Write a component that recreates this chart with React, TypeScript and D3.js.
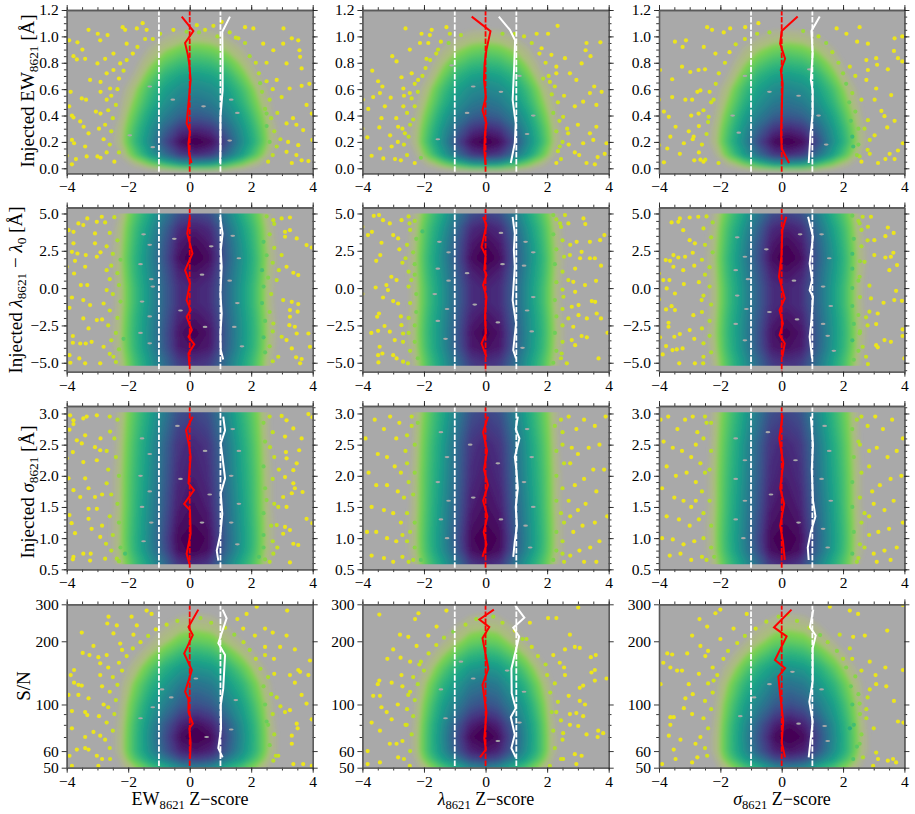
import React, { useEffect, useRef } from 'react';
import * as d3 from 'd3';

const width = 915;
const height = 814;

// z-score distance from the centre of the cloud, columns of the density tables
const zProfile = [0, 0.5, 1, 1.5, 2, 2.5, 3, 3.5];

// density tables: one row per y value (1 = darkest purple, 0 = yellow)
const ewRows = [-0.03, 0.03, 0.1, 0.2, 0.3, 0.4, 0.5, 0.6, 0.7, 0.8, 0.9, 1.0, 1.1, 1.25];
const ewDensity = [
  [0, 0, 0, 0, 0, 0, 0, 0],
  [0.45, 0.42, 0.3, 0.18, 0.08, 0, 0, 0],
  [0.85, 0.8, 0.62, 0.42, 0.22, 0.05, 0, 0],
  [1, 0.95, 0.76, 0.5, 0.3, 0.09, 0, 0],
  [0.87, 0.82, 0.66, 0.46, 0.27, 0.08, 0, 0],
  [0.7, 0.66, 0.55, 0.4, 0.22, 0.06, 0, 0],
  [0.6, 0.56, 0.47, 0.33, 0.17, 0.04, 0, 0],
  [0.52, 0.49, 0.41, 0.28, 0.13, 0.02, 0, 0],
  [0.43, 0.4, 0.33, 0.2, 0.07, 0, 0, 0],
  [0.31, 0.29, 0.23, 0.13, 0.03, 0, 0, 0],
  [0.21, 0.19, 0.14, 0.07, 0, 0, 0, 0],
  [0.1, 0.09, 0.06, 0.02, 0, 0, 0, 0],
  [0.02, 0.02, 0, 0, 0, 0, 0, 0],
  [0, 0, 0, 0, 0, 0, 0, 0],
];
const lamRows = [-6, -5, -4, -3, -2, -1, 0, 1, 2, 3, 4, 5, 6];
const lamDensity = [
  [0.84, 0.8, 0.62, 0.42, 0.25, 0.06, 0, 0],
  [0.84, 0.8, 0.62, 0.42, 0.25, 0.06, 0, 0],
  [0.94, 0.9, 0.69, 0.47, 0.29, 0.08, 0, 0],
  [0.98, 0.92, 0.7, 0.48, 0.3, 0.09, 0, 0],
  [0.93, 0.88, 0.68, 0.47, 0.29, 0.08, 0, 0],
  [0.88, 0.84, 0.66, 0.45, 0.27, 0.07, 0, 0],
  [0.88, 0.84, 0.66, 0.45, 0.27, 0.07, 0, 0],
  [0.93, 0.88, 0.68, 0.47, 0.29, 0.08, 0, 0],
  [1, 0.94, 0.71, 0.49, 0.3, 0.09, 0, 0],
  [0.96, 0.9, 0.69, 0.47, 0.28, 0.08, 0, 0],
  [0.9, 0.85, 0.64, 0.43, 0.26, 0.07, 0, 0],
  [0.78, 0.73, 0.56, 0.37, 0.22, 0.05, 0, 0],
  [0.78, 0.73, 0.56, 0.37, 0.22, 0.05, 0, 0],
];
const sigRows = [0.3, 0.6, 0.8, 1, 1.25, 1.5, 2, 2.5, 3, 3.3];
const sigDensity = [
  [0.87, 0.82, 0.6, 0.4, 0.24, 0.06, 0, 0],
  [0.87, 0.82, 0.6, 0.4, 0.24, 0.06, 0, 0],
  [0.98, 0.93, 0.69, 0.47, 0.28, 0.08, 0, 0],
  [1, 0.95, 0.71, 0.48, 0.29, 0.08, 0, 0],
  [0.96, 0.92, 0.69, 0.47, 0.28, 0.08, 0, 0],
  [0.94, 0.89, 0.67, 0.46, 0.27, 0.07, 0, 0],
  [0.9, 0.85, 0.64, 0.43, 0.26, 0.07, 0, 0],
  [0.87, 0.82, 0.62, 0.41, 0.24, 0.06, 0, 0],
  [0.78, 0.73, 0.54, 0.36, 0.21, 0.05, 0, 0],
  [0.78, 0.73, 0.54, 0.36, 0.21, 0.05, 0, 0],
];
const snrRows = [42, 50, 55, 60, 70, 80, 100, 125, 150, 175, 200, 250, 300, 340];
const snrDensity = [
  [0.55, 0.5, 0.36, 0.26, 0.14, 0.03, 0, 0],
  [0.55, 0.5, 0.36, 0.26, 0.14, 0.03, 0, 0],
  [0.8, 0.75, 0.57, 0.41, 0.24, 0.06, 0, 0],
  [0.92, 0.88, 0.7, 0.48, 0.29, 0.08, 0, 0],
  [1, 0.95, 0.74, 0.5, 0.29, 0.08, 0, 0],
  [0.95, 0.88, 0.7, 0.48, 0.28, 0.07, 0, 0],
  [0.74, 0.69, 0.55, 0.41, 0.23, 0.06, 0, 0],
  [0.6, 0.56, 0.44, 0.32, 0.17, 0.04, 0, 0],
  [0.46, 0.43, 0.34, 0.22, 0.1, 0.01, 0, 0],
  [0.33, 0.3, 0.22, 0.13, 0.04, 0, 0, 0],
  [0.22, 0.2, 0.13, 0.06, 0, 0, 0, 0],
  [0.09, 0.08, 0.04, 0, 0, 0, 0, 0],
  [0.02, 0.01, 0, 0, 0, 0, 0, 0],
  [0, 0, 0, 0, 0, 0, 0, 0],
];

// centre and relative width of the cloud, one per x column
const ewCentre = [0.2, 0, 0.2];
const lamCentre = [0.15, 0, 0.15];
const sigCentre = [0.1, 0, 0.1];
const snrCentre = [0.2, -0.05, 0.25];
const ewWidth = [1, 0.92, 0.96];
const lamWidth = [1, 0.95, 0.97];
const sigWidth = [1, 0.95, 0.97];
const snrWidth = [1, 0.9, 0.97];

// sparse points in the wings [z, y]
const ptsEwEw = [[-3.92,0.97],[-3.65,0.955],[-3.49,0.9],[-3.78,0.85],[-3.67,0.825],[-3.4,0.83],[-3.29,1.05],[-2.99,1.02],[-2.67,1.01],[-2.18,1.07],[-2.1,1.05],[-1.53,1.1],[-1.72,1.06],[-1.4,1.05],[-2.91,0.97],[-2.75,0.83],[-3,0.795],[-3.24,0.67],[-2.9,0.655],[-3.87,0.58],[-3.51,0.53],[-3.37,0.52],[-3.92,0.47],[-3.83,0.4],[-3.78,0.385],[-3.56,0.355],[-3.45,0.315],[-3.83,0.215],[-3.76,0.19],[-4,0.095],[-3.7,0.07],[-3.83,0.03],[-3.4,0.165],[-3.29,0.265],[-3.35,0.09],[-3,0.09],[-2.7,0.52],[-2.48,0.745],[-2.26,0.795],[-2.48,0.87],[-2.05,0.945],[-2.59,0.605],[-2.9,0.415],[3.97,0.415],[3.99,0.215],[3.86,0.055],[3.64,0.06],[3.69,0.29],[3.47,0.33],[3.36,0.38],[3.15,0.34],[3.8,0.48],[3.89,0.64],[3.64,0.625],[3.59,0.845],[3.57,0.895],[3.53,0.97],[3.32,0.985],[3.04,0.945],[3.05,1.06],[3.64,0.757],[3.15,0.795],[2.83,0.67],[3.25,0.605],[2.99,0.54],[2.72,0.895],[2.39,0.945],[2.07,1.06],[1.8,1.07],[1.58,0.985],[3.2,0.2],[3.53,0.175],[3.47,0.1],[3.15,0.125],[3.32,0.04],[2.83,0.165],[2.5,0.415],[2.29,0.645],[-0.53,1.05],[0.23,1.085],[1.04,1.11],[0.5,1.05],[-0.96,1.02],[0.77,1.08],[-0.1,1.035]];
const ptsEwLam = [[-2.6,1.06],[-1.75,1.05],[-2.08,1.02],[-1.81,1.01],[-1.27,1.07],[-1.16,1.02],[-3.03,0.85],[-2.89,0.81],[-2.46,0.9],[-2.13,0.95],[-1.86,0.95],[-3.68,0.74],[-3.49,0.66],[-3.35,0.62],[-3.65,0.54],[-3.43,0.57],[-3.08,0.535],[-2.73,0.69],[-2.67,0.605],[-3.99,0.52],[-3.81,0.45],[-3.27,0.47],[-3.38,0.38],[-3.45,0.31],[-4,0.3],[-3.84,0.235],[-3.43,0.15],[-3.7,0.095],[-3.32,0.075],[-3.05,0.165],[-2.94,0.07],[-3.1,0.25],[-2.62,0.265],[-2.67,0.47],[-2.46,0.57],[-2.84,0.315],[-2.35,0.37],[-2.19,0.67],[-1.92,0.83],[-1.54,0.9],[2.34,1.08],[2.03,1.02],[1.66,1.02],[3.28,0.95],[3.73,0.955],[3.25,0.895],[3.41,0.85],[3.12,0.795],[2.58,0.835],[2.14,0.86],[1.82,0.91],[2.74,0.72],[2.95,0.67],[3.53,0.62],[3.77,0.58],[3.39,0.57],[3.17,0.505],[3.6,0.48],[2.9,0.47],[3,0.33],[3.6,0.315],[3.39,0.265],[3.93,0.19],[3.5,0.215],[3.17,0.19],[3.87,0.11],[3.64,0.085],[3.55,0.03],[3.28,0.04],[3.04,0.1],[2.9,0.12],[2.52,0.39],[2.68,0.265],[2.3,0.04],[2.41,0.165],[1.87,0.68],[2.09,0.655],[2.3,0.77]];
const ptsEwSig = [[-3.48,0.96],[-3.23,0.92],[-3.12,0.97],[-2.43,1.07],[-2.27,1.05],[-1.89,1.03],[-1.68,1.06],[-1.19,1.07],[-0.76,1.1],[-3.97,0.745],[-3.57,0.675],[-3.25,0.77],[-2.98,0.73],[-2.71,0.745],[-2.54,0.92],[-2.16,0.87],[-4,0.52],[-3.57,0.54],[-3.84,0.43],[-3.68,0.39],[-3.14,0.52],[-2.92,0.52],[-2.65,0.59],[-3.46,0.315],[-3.63,0.24],[-4,0.175],[-3.73,0.15],[-3.84,0.045],[-3.32,0.11],[-3.03,0.28],[-2.87,0.24],[-3.19,0.19],[-2.65,0.065],[-2.49,0.065],[-2.06,0.04],[-2.71,0.415],[-2.38,0.39],[-2.22,0.52],[3.68,0.985],[3.93,1],[3.66,0.89],[3.79,0.835],[3.93,0.81],[3.46,0.75],[2.81,0.945],[2.46,0.96],[2.11,1.02],[1.79,1.06],[2.54,1.07],[3.08,0.835],[3.11,0.785],[2.76,0.82],[2.22,0.77],[2.81,0.745],[2.76,0.67],[3.08,0.605],[3.03,0.52],[3.57,0.555],[3.25,0.435],[3.35,0.395],[3.68,0.36],[2.81,0.365],[3.44,0.31],[3.03,0.25],[2.87,0.215],[3.95,0.19],[3.79,0.135],[3.52,0.11],[3.38,0.07],[3.68,0.07],[3.14,0.04],[2.87,0.11],[2.54,0.09],[2.33,0.165]];
const ptsLamEw = [[-3.94,3.88],[-3.78,3.77],[-3.62,4.33],[-3.46,4.22],[-3.33,4.67],[-3.02,4.44],[-2.86,4.78],[-3.08,3.66],[-3.78,3],[-3.83,2.43],[-3.65,2.32],[-3.73,1.83],[-3.38,2.21],[-3.08,3],[-3.02,2.1],[-3.4,1.43],[-3.76,0.98],[-4,1.43],[-3.54,0.2],[-3.33,0.2],[-3.83,-0.63],[-3.91,-1.32],[-3.46,-0.8],[-3.24,-1.14],[-3.46,-2.03],[-3.02,-2.14],[-3.29,-2.7],[-3.8,-3.21],[-3.8,-3.66],[-3.56,-3.71],[-3.38,-3.71],[-3.19,-3.6],[-3.91,-4.49],[-3.59,-4.71],[-3.88,-5],[-3.4,-5.04],[-2.91,-5.04],[-2.8,-3.93],[-2.48,-4.6],[-2.7,-0.13],[-2.7,1.2],[-2.8,-1.03],[3.1,3.77],[3.26,3.88],[3.1,3.44],[3.48,3.33],[3.8,2.88],[3.97,2.72],[2.99,2.21],[3.15,1.43],[3.37,1.03],[3.53,0.87],[3.26,4.73],[2.99,4.67],[2.72,4.55],[2.83,0.54],[3.04,-0.8],[3.32,-0.92],[3.53,-1.07],[3.26,-1.47],[3.51,-1.58],[3.26,-1.92],[3.24,-2.48],[3.42,-2.59],[3.48,-3.04],[3.86,-3.04],[3.91,-3.93],[2.99,-3.26],[3.15,-3.48],[3.32,-4.04],[3.46,-4.64],[3.64,-4.75],[3.59,-5.04],[2.88,-4.6],[2.72,-2.37]];
const ptsLamLam = [[-4,4.1],[-3.82,3.55],[-3.69,3.77],[-3.63,4.84],[-3.46,4.89],[-3.33,4.55],[-3.38,3.04],[-3.11,4.33],[-3,3.55],[-3.55,1.83],[-3.42,2.21],[-2.84,3.33],[-2.73,4.55],[-2.47,4.33],[-3.06,0.76],[-2.89,0.54],[-3.57,0.04],[-3.22,0.2],[-3.17,-0.13],[-3.33,-0.63],[-4,-0.4],[-3,-0.87],[-2.84,-1.03],[-3.46,-1.7],[-3.52,-1.92],[-3.71,-3],[-3.49,-2.86],[-3.28,-2.54],[-3.11,-2.92],[-2.95,-3.48],[-3.44,-3.93],[-3.49,-4.49],[-3.35,-4.38],[-3.48,-4.98],[-3,-4.49],[-2.89,-4.71],[-2.68,-4.93],[-2.52,-5.04],[-2.73,-2.48],[-2.68,-3.04],[-2.68,-3.6],[-2.41,0.54],[2.2,4.89],[2.58,4.89],[2.42,4.33],[2.69,4.33],[3.18,4.67],[3.24,4.29],[3.86,3.55],[3.72,3.21],[3.39,3.1],[2.96,3.1],[3.12,2.43],[3.39,2],[3.55,2],[3.75,1.5],[2.91,1.31],[2.74,2.21],[3.07,2],[2.69,0.54],[2.85,0.42],[3.23,0.2],[3.59,0.49],[2.91,-0.25],[2.53,-0.58],[3.45,-0.87],[3.56,-0.92],[3.02,-1.14],[2.8,-1.25],[3.61,-1.7],[3.75,-2.03],[3.29,-2.03],[3.02,-1.81],[2.69,-2.03],[2.85,-2.59],[3.96,-2.99],[3.12,-3.21],[3.29,-3.3],[3.67,-4.71],[2.64,-5.04],[2.8,-3.48],[2.47,-4.38],[2.91,-3.82]];
const ptsLamSig = [[-3.59,4.4],[-3.37,4.44],[-3.32,4.67],[-3,4.73],[-2.72,4.78],[-3.21,3.88],[-3,3.21],[-2.83,3],[-3.53,2.21],[-3.37,2.05],[-3.15,2.1],[-2.9,2.37],[-3.78,1.88],[-3.64,1.83],[-3.53,1.43],[-3.21,1.2],[-3.86,0.54],[-3.66,0.54],[-4,0.98],[-3.75,-0.02],[-3.48,-0.36],[-3.19,0.27],[-4,-0.76],[-3.77,-1.43],[-3.59,-1.21],[-3.48,-1.47],[-3.69,-2.32],[-3.69,-2.59],[-3.97,-3.3],[-3.5,-3.26],[-3.32,-3.08],[-3,-2.81],[-3.77,-3.88],[-3.56,-4.15],[-3.42,-4.11],[-3.23,-4.04],[-3.88,-4.44],[-3.34,-5.04],[-2.83,-5.04],[-2.56,-5.04],[-2.61,-0.8],[-2.88,-1.81],[2.64,4.78],[2.91,4.78],[2.54,4.33],[2.81,4.11],[3.02,3.21],[3.46,4.06],[3.65,3.7],[3.38,3.48],[3.64,2.37],[3.56,2.1],[3.38,2.05],[3.76,1.54],[3.51,1.2],[3.02,2.21],[2.7,1.76],[2.54,0.76],[2.86,0.16],[3.73,-0.18],[3.67,-0.8],[3.92,-0.85],[3.32,-0.98],[2.91,-0.69],[2.86,-1.58],[3.13,-1.7],[2.75,-1.96],[3.08,-2.41],[3.94,-2.77],[3.94,-3.21],[3.35,-3.48],[3.56,-3.6],[3.08,-3.82],[3.13,-3.97],[4,-4.71],[2.81,-5.09],[2.75,-4.6],[2.54,-3.03],[2.64,-3.93]];
const ptsSigEw = [[-3.89,2.97],[-3.78,2.89],[-3.78,2.83],[-3.46,2.92],[-3.35,2.95],[-3.02,2.97],[-3.91,2.74],[-3.67,2.57],[-3.4,2.65],[-3.51,2.52],[-3.08,2.46],[-4,2.28],[-3.8,2.38],[-3.46,2.22],[-2.91,2.41],[-3.02,2.25],[-3.94,1.96],[-3.4,1.96],[-3.78,1.77],[-3.29,1.8],[-3.56,1.66],[-3.08,1.66],[-3.29,1.47],[-3.02,1.47],[-3.91,1.37],[-3.29,1.31],[-3.84,1.24],[-3.73,1.08],[-3.19,1.15],[-2.91,1.02],[-2.72,0.91],[-3.22,0.75],[-3.46,0.75],[-3.78,0.7],[-3.8,0.66],[-3.24,0.64],[-2.75,0.67],[-2.37,0.67],[-2.7,1.88],[-2.59,2.71],[3.86,2.99],[3.99,2.94],[2.99,2.96],[3.15,2.89],[3.37,2.76],[3.64,2.6],[3.1,2.63],[3.56,2.41],[3.13,2.38],[3.15,2.28],[3.48,2.2],[3.37,2.09],[3.1,1.98],[3.37,1.88],[3.67,1.74],[3.42,1.8],[3.32,1.72],[3.04,1.66],[3.15,1.5],[2.88,1.5],[3.8,1.31],[3.99,1.24],[2.83,1.21],[3.26,1.13],[3.37,0.91],[3.53,0.89],[3.26,0.61],[2.72,0.75],[2.45,0.66],[3.04,1.07],[3.1,1.18],[2.5,1.61],[2.61,2.46]];
const ptsSigLam = [[-3.9,2.6],[-3.6,2.9],[-3.3,2.75],[-3.1,2.95],[-2.9,2.6],[-2.8,2.85],[-3.5,2.35],[-3.2,2.3],[-2.95,2.15],[-3.8,2.05],[-3.55,1.85],[-3.2,1.85],[-2.85,1.75],[-3.7,1.5],[-3.3,1.45],[-3,1.4],[-2.75,1.25],[-3.85,1.1],[-3.55,1.1],[-3.2,1],[-2.9,0.95],[-3.7,0.72],[-3.3,0.68],[-3,0.62],[-2.7,0.7],[-2.5,0.62],[-2.6,2.4],[-2.5,1.9],[-2.4,2.8],[-2.45,1.1],[3.9,2.95],[3.55,2.8],[3.2,2.9],[2.95,2.75],[2.7,2.95],[3.7,2.5],[3.35,2.45],[3,2.35],[2.75,2.2],[3.85,2.1],[3.5,2.1],[3.2,1.95],[2.9,1.85],[3.6,1.75],[3.25,1.55],[3,1.45],[2.7,1.6],[3.95,1.35],[3.55,1.25],[3.15,1.2],[2.85,1.1],[3.7,0.95],[3.4,0.85],[3.05,0.8],[2.75,0.72],[3.6,0.62],[3.2,0.62],[2.5,0.75],[2.45,1.4],[2.5,2.5]];
const ptsSigSig = [[-3.95,2.9],[-3.7,2.95],[-3.4,2.75],[-3.15,2.9],[-2.9,2.95],[-2.75,2.7],[-3.85,2.55],[-3.55,2.45],[-3.25,2.4],[-2.95,2.3],[-3.75,2.15],[-3.45,2],[-3.1,2.05],[-2.8,1.9],[-3.9,1.8],[-3.5,1.65],[-3.2,1.6],[-2.95,1.5],[-3.75,1.35],[-3.35,1.3],[-3,1.2],[-2.7,1.3],[-3.9,1],[-3.55,0.98],[-3.2,0.9],[-2.85,0.95],[-3.65,0.72],[-3.3,0.75],[-2.95,0.65],[-2.6,0.7],[-2.5,2.05],[-2.45,2.85],[3.95,2.6],[3.6,2.9],[3.3,2.75],[3.05,2.95],[2.8,2.8],[2.6,2.95],[3.75,2.4],[3.45,2.3],[3.1,2.45],[2.85,2.15],[3.9,2],[3.55,1.95],[3.2,1.85],[2.95,1.75],[3.65,1.6],[3.35,1.45],[3,1.55],[2.7,1.4],[3.95,1.25],[3.5,1.15],[3.15,1.1],[2.85,1.05],[3.75,0.85],[3.35,0.8],[3,0.75],[2.7,0.85],[3.55,0.65],[3.1,0.62],[2.5,0.68],[2.5,2.55]];
const ptsSnrEw = [[-3.94,111],[-3.83,93],[-3.76,127],[-3.87,138],[-3.76,146],[-3.62,124],[-3.51,123],[-3.51,220],[-3.48,176],[-3.26,172],[-3.13,190],[-2.97,168],[-2.91,157],[-2.64,262],[-2.68,243],[-2.37,238],[-2.48,218],[-1.89,262],[-1.72,238],[-1.4,280],[-1.24,270],[-3.4,92],[-3.33,89],[-3.62,111],[-3.29,107],[-2.91,138],[-3.83,77],[-3.67,61],[-3.91,57],[-3.4,62],[-3.29,61],[-3.02,57],[-3.83,51],[-3.4,70],[-2.91,71],[-2.97,51],[-2.59,55],[-3.13,74],[-2.7,172],[-2.26,195],[-1.83,215],[-2.8,100],[3.17,280],[2.18,292],[1.85,270],[1.55,255],[1.74,230],[2.12,213],[2.45,230],[2.7,220],[3.15,213],[2.94,188],[3.42,183],[2.45,188],[2.74,165],[3.91,162],[3.53,146],[3.59,143],[3.26,138],[3.86,138],[3.42,127],[3.64,111],[3.8,101],[3.26,94],[3.1,92],[3.97,85],[3.48,81],[3.51,77],[3.32,71],[3.32,65],[2.88,57],[3.69,52],[3.37,52],[3.97,51],[2.72,54],[2.5,83],[2.83,108]];
const ptsSnrLam = [[-3.45,268],[-2.29,255],[-2.18,272],[-2.78,215],[-2.51,210],[-3,183],[-3.19,165],[-2.76,167],[-2.24,190],[-1.86,213],[-1.27,280],[-1.59,235],[-3.45,130],[-3.5,125],[-3.05,127],[-2.73,138],[-3.65,110],[-3.43,110],[-3.38,97],[-3.7,82],[-3.21,92],[-3.05,85],[-3.43,75],[-3.11,65],[-3.83,60],[-3.83,52],[-3.43,53],[-2.84,56],[-2.89,65],[-2.56,80],[-2.46,51],[-2.51,111],[-2.15,155],[3.01,290],[2.3,258],[2.03,258],[2.74,215],[1.44,245],[1.33,205],[2.9,188],[3.06,186],[3.42,168],[3.58,172],[2.58,183],[2.41,158],[3.55,146],[3.44,142],[3.55,130],[3.06,120],[3.93,133],[3.17,123],[2.58,138],[3.06,104],[3.23,100],[2.74,90],[2.95,91],[3.17,88],[2.74,80],[3.01,79],[3.28,72],[3.64,70],[3.82,73],[3.66,75],[2.52,73],[2.9,58],[3.12,57],[2.95,52],[2.52,55],[2.09,51],[2.3,92]];
const ptsSnrSig = [[-3.86,158],[-3.73,175],[-3.57,173],[-3.63,150],[-3.95,125],[-3.41,145],[-3.25,145],[-3.08,175],[-2.68,255],[-2.16,272],[-2.43,235],[-2,283],[-2.92,213],[-2.65,190],[-2.49,170],[-3.63,80],[-3.19,96],[-3.52,87],[-2.92,90],[-3.63,87],[-3.68,71],[-3.52,61],[-3.9,52],[-3.46,55],[-2.92,53],[-3.3,68],[-3.14,107],[-3.03,125],[-2.81,65],[-2.22,130],[-2.43,57],[-1.57,230],[-1.14,270],[3.95,298],[2.22,280],[2.49,270],[1.57,292],[2.71,213],[2.33,210],[1.89,215],[2.22,185],[3.44,225],[3.38,150],[3.95,146],[2.87,160],[3.06,138],[3.08,125],[2.87,118],[3.41,122],[3.66,104],[2.54,101],[2.76,86],[3,77],[3.79,83],[3.97,82],[2.76,95],[3.08,59],[2.98,51],[3.46,54],[3.63,55],[3.73,53],[3.14,55],[2.33,55],[2.54,65],[2.22,77]];

// denser points at the edge of the cloud
const edgeEwEw = [[-2.9,0.08],[-2.7,0.12],[-2.6,0.18],[-2.8,0.22],[-2.55,0.28],[-2.75,0.33],[-2.5,0.38],[-2.65,0.44],[-2.4,0.48],[-2.55,0.55],[-2.35,0.6],[-2.3,0.68],[-2.15,0.74],[-2.05,0.82],[-1.85,0.87],[-1.7,0.92],[-1.45,0.98],[-1.2,0.98],[-2.45,0.05],[-2.3,0.12],[-2.95,0.3],[-3.05,0.43],[-2.9,0.58],[-2.7,0.72],[2.7,0.1],[2.55,0.05],[2.6,0.2],[2.75,0.28],[2.5,0.32],[2.65,0.38],[2.45,0.45],[2.6,0.52],[2.35,0.58],[2.5,0.66],[2.25,0.72],[2.15,0.8],[1.95,0.85],[1.8,0.95],[1.5,0.99],[1.3,1.03],[0.9,1],[0.3,1.03],[2.95,0.22],[2.85,0.42],[2.7,0.6],[2.5,0.8]];
const edgeEwLam = [[-2.75,0.06],[-2.55,0.1],[-2.65,0.18],[-2.5,0.24],[-2.7,0.3],[-2.45,0.33],[-2.55,0.42],[-2.3,0.47],[-2.4,0.53],[-2.2,0.58],[-2.3,0.64],[-2.05,0.7],[-1.95,0.76],[-1.8,0.82],[-1.6,0.87],[-1.45,0.96],[-1.2,0.95],[-0.8,1.01],[-2.3,0.04],[-2.1,0.08],[-2.85,0.2],[-2.9,0.38],[-2.65,0.55],[-2.4,0.72],[2.45,0.07],[2.35,0.13],[2.5,0.2],[2.3,0.28],[2.4,0.36],[2.2,0.42],[2.35,0.5],[2.15,0.56],[2.25,0.62],[2.05,0.7],[1.95,0.8],[1.75,0.87],[1.5,0.95],[1.25,1],[0.95,1.02],[0.55,1.02],[2.7,0.18],[2.65,0.3],[2.55,0.55],[2.3,0.72]];
const edgeEwSig = [[-2.85,0.06],[-2.7,0.12],[-2.55,0.05],[-2.6,0.18],[-2.45,0.26],[-2.7,0.32],[-2.4,0.35],[-2.55,0.44],[-2.3,0.5],[-2.35,0.58],[-2.15,0.64],[-2.05,0.72],[-1.85,0.8],[-1.7,0.88],[-1.5,0.94],[-1.2,0.98],[-0.8,1.02],[-0.4,1.03],[-2.9,0.22],[-2.95,0.4],[-2.75,0.58],[-2.5,0.75],[2.6,0.05],[2.45,0.1],[2.5,0.18],[2.3,0.24],[2.5,0.3],[2.25,0.36],[2.4,0.43],[2.2,0.5],[2.3,0.57],[2.1,0.64],[2,0.72],[1.85,0.8],[1.65,0.88],[1.45,0.95],[1.2,1],[0.7,1.04],[2.8,0.14],[2.7,0.3],[2.6,0.52],[2.4,0.7]];
const edgeLamEw = [[-2.75,4.4],[-2.45,4.75],[-2.6,3.7],[-2.35,3.2],[-2.7,2.8],[-2.5,2.3],[-2.25,1.9],[-2.55,1.5],[-2.35,1],[-2.6,0.6],[-2.3,0.2],[-2.5,-0.4],[-2.25,-0.9],[-2.6,-1.5],[-2.35,-2],[-2.65,-2.5],[-2.4,-3],[-2.55,-3.5],[-2.3,-4.1],[-2.6,-4.4],[-2.4,-4.95],[-2.15,-3.4],[-2.9,2.4],[-2.85,-2.1],[2.75,4.3],[2.5,4.8],[2.6,3.6],[2.4,3.1],[2.75,2.7],[2.5,2.2],[2.7,1.7],[2.35,1.2],[2.55,0.7],[2.4,0.1],[2.65,-0.4],[2.35,-1],[2.6,-1.6],[2.45,-2.2],[2.7,-2.9],[2.4,-3.3],[2.6,-3.9],[2.45,-4.3],[2.7,-4.9],[2.9,1.2]];
const edgeLamLam = [[-2.5,4.8],[-2.3,4.5],[-2.45,3.9],[-2.25,3.3],[-2.55,2.9],[-2.35,2.4],[-2.6,2],[-2.3,1.6],[-2.5,1.1],[-2.7,1.7],[-2.3,0.9],[-2.5,0.1],[-2.25,-0.4],[-2.45,-1],[-2.25,-1.6],[-2.5,-2],[-2.3,-2.5],[-2.5,-3],[-2.3,-3.6],[-2.45,-4.2],[-2.2,-4.7],[-2.75,-1.9],[-2.8,2.6],[-2.05,3.8],[2.3,4.6],[2.45,4.1],[2.2,3.6],[2.5,3.2],[2.3,2.6],[2.55,2.1],[2.25,1.6],[2.5,1.1],[2.3,0.4],[2.5,-0.1],[2.25,-0.8],[2.5,-1.4],[2.3,-1.9],[2.5,-2.5],[2.25,-3],[2.5,-3.6],[2.3,-4.2],[2.45,-4.7],[2.2,-5],[2.75,2.9]];
const edgeLamSig = [[-2.45,4.8],[-2.25,4.4],[-2.55,4],[-2.3,3.4],[-2.5,2.9],[-2.25,2.4],[-2.6,1.9],[-2.35,1.4],[-2.5,0.9],[-2.7,0.4],[-2.35,0.1],[-2.55,-0.5],[-2.3,-1.1],[-2.6,-1.6],[-2.35,-2.2],[-2.6,-2.7],[-2.35,-3.2],[-2.55,-3.7],[-2.3,-4.3],[-2.55,-4.6],[-2.85,-3.4],[-2.85,1.5],[2.5,4.5],[2.3,4.85],[2.6,3.9],[2.35,3.3],[2.6,2.8],[2.3,2.3],[2.55,1.8],[2.3,1.3],[2.5,0.5],[2.3,0],[2.55,-0.6],[2.3,-1.2],[2.5,-1.8],[2.35,-2.4],[2.55,-2.9],[2.3,-3.5],[2.5,-4.2],[2.35,-4.8],[2.8,3.2],[2.8,-2.5]];
const edgeSigEw = [[-2.6,2.95],[-2.35,2.9],[-2.45,2.6],[-2.7,2.4],[-2.4,2.3],[-2.65,2.1],[-2.3,2],[-2.55,1.7],[-2.35,1.55],[-2.6,1.35],[-2.3,1.25],[-2.5,1.05],[-2.25,0.85],[-2.55,0.8],[-2.3,0.63],[-2.1,0.75],[-2.85,1.7],[-2.9,2.6],[-2.85,1.2],[2.6,2.95],[2.4,2.85],[2.7,2.7],[2.45,2.55],[2.75,2.3],[2.4,2.15],[2.7,1.95],[2.45,1.8],[2.75,1.55],[2.4,1.4],[2.65,1.2],[2.4,1.05],[2.7,0.95],[2.4,0.85],[2.6,0.62],[2.25,0.7],[2.9,2.1],[2.85,0.85]];
const edgeSigLam = [[-2.4,2.95],[-2.2,2.85],[-2.55,2.65],[-2.3,2.5],[-2.55,2.2],[-2.3,2.05],[-2.65,1.65],[-2.35,1.7],[-2.55,1.4],[-2.3,1.25],[-2.55,0.95],[-2.3,0.85],[-2.1,0.65],[-2.35,0.65],[-2.75,2.05],[-2.7,1.05],[2.45,2.9],[2.25,2.8],[2.5,2.7],[2.3,2.4],[2.55,2.2],[2.3,2],[2.5,1.8],[2.3,1.6],[2.55,1.25],[2.3,1.1],[2.5,0.95],[2.3,0.8],[2.55,0.62],[2.2,0.65],[2.8,2.45],[2.75,1.35]];
const edgeSigSig = [[-2.5,2.95],[-2.3,2.85],[-2.55,2.6],[-2.3,2.4],[-2.65,2.2],[-2.35,2.1],[-2.6,1.75],[-2.35,1.6],[-2.55,1.4],[-2.3,1.2],[-2.55,1],[-2.3,0.85],[-2.45,0.65],[-2.2,0.7],[-2.8,2.5],[-2.8,1.6],[2.45,2.9],[2.3,2.75],[2.55,2.5],[2.35,2.3],[2.6,2.05],[2.3,1.9],[2.55,1.65],[2.3,1.5],[2.6,1.25],[2.35,1.1],[2.55,0.9],[2.3,0.75],[2.45,0.62],[2.85,2.4],[2.85,1.35]];
const edgeSnrEw = [[-2.85,55],[-2.6,62],[-2.75,68],[-2.5,75],[-2.7,82],[-2.45,90],[-2.65,97],[-2.4,105],[-2.6,115],[-2.35,124],[-2.5,135],[-2.2,145],[-2.3,158],[-2.05,170],[-1.85,185],[-1.6,198],[-1.35,212],[-1.1,228],[-0.75,240],[-0.4,250],[-2.95,88],[-2.85,122],[-2.65,150],[-2.2,182],[2.8,57],[2.6,64],[2.75,72],[2.55,80],[2.7,90],[2.45,100],[2.65,112],[2.4,122],[2.55,135],[2.3,148],[2.15,165],[1.95,182],[1.75,198],[1.45,215],[1.15,232],[0.7,245],[0.35,258],[2.95,98],[2.75,140],[2.45,172]];
const edgeSnrLam = [[-2.65,55],[-2.45,60],[-2.7,67],[-2.4,72],[-2.6,80],[-2.35,88],[-2.55,95],[-2.3,105],[-2.45,115],[-2.2,125],[-2.35,135],[-2,145],[-2.1,160],[-1.85,175],[-1.6,192],[-1.35,208],[-1.05,222],[-0.65,240],[-0.3,255],[-2.85,100],[-2.7,122],[-2.45,160],[2.45,55],[2.25,62],[2.5,68],[2.2,75],[2.45,84],[2.15,92],[2.35,103],[2.1,114],[2.25,126],[2,138],[1.95,155],[1.7,170],[1.5,188],[1.2,205],[0.95,225],[0.55,245],[0.25,262],[2.7,110],[2.55,150],[2.2,172]];
const edgeSnrSig = [[-2.75,56],[-2.5,62],[-2.65,70],[-2.4,77],[-2.55,86],[-2.3,95],[-2.5,104],[-2.25,114],[-2.4,126],[-2.1,138],[-2.25,150],[-1.9,165],[-1.75,180],[-1.45,196],[-1.2,212],[-0.85,230],[-0.5,248],[-0.1,262],[-2.9,112],[-2.7,140],[-2.4,180],[-2,205],[2.65,56],[2.45,63],[2.6,72],[2.35,80],[2.55,90],[2.3,100],[2.5,112],[2.25,122],[2.4,136],[2.1,150],[2,165],[1.8,180],[1.5,198],[1.25,214],[0.9,232],[0.5,250],[0.2,268],[2.8,108],[2.6,145],[2.3,165]];

// small holes in the dense part of the cloud [z, y]
const holesLamEw = [[-1.5,3.6],[-1.3,2.9],[-1.6,1.6],[-1.25,0.6],[-1.2,0.1],[-1.55,-0.9],[-1.3,-1.9],[-1.6,-3],[-1.3,-3.7],[-0.5,3.3],[0.7,2.8],[0.4,0.9],[-0.3,-1.5],[0.5,-2.6],[1.4,3.5],[1.6,2],[1.3,0.5],[1.55,-1],[1.45,-2.6],[1.7,-3.9]];
const holesLamLam = [[-1.5,3.1],[-1.2,2.4],[-1.55,1.3],[-1.2,0.5],[-1.65,-0.4],[-1.25,-1.4],[-1.55,-2.2],[-1.3,-3.4],[-0.6,1],[0.5,3.7],[0.55,1.6],[-0.35,-1.1],[0.4,-2.3],[1.3,3.1],[1.55,2.4],[1.25,1.5],[1.55,-0.6],[1.35,-1.5],[1.5,-2.9],[1.2,-4]];
const holesLamSig = [[-1.45,3.4],[-1.2,2.1],[-1.5,1.2],[-1.1,0.6],[-1.45,-0.5],[-1.15,-1.4],[-1.5,-2.4],[-1.2,-3.5],[-0.5,2.6],[0.6,3.6],[0.4,0.5],[-0.4,-1.6],[0.5,-2.1],[1.3,3.6],[1.55,2],[1.35,0.1],[1.6,-1.2],[1.35,-2.4],[1.5,-3.2],[1.7,-4.2]];
const holesSigEw = [[-1.55,2.6],[-1.3,2.35],[-1.6,2],[-1.3,1.75],[-1.55,1.5],[-1.25,1.25],[-1.5,0.95],[-0.4,2.8],[0.5,2.4],[-0.3,1.95],[0.65,1.7],[0.4,1.25],[1.4,2.75],[1.6,2.4],[1.35,2],[1.6,1.55],[1.35,1.25],[1.55,0.9]];
const holesSigLam = [[-1.45,2.7],[-1.25,2.3],[-1.55,1.9],[-1.2,1.6],[-1.45,1.3],[-1.25,1],[-0.5,2.5],[0.4,2.2],[-0.4,1.65],[0.5,1.3],[1.35,2.75],[1.5,2.3],[1.25,1.9],[1.55,1.5],[1.3,1.2],[1.45,0.85]];
const holesSigSig = [[-1.5,2.6],[-1.2,2.25],[-1.5,1.95],[-1.2,1.6],[-1.5,1.3],[-1.25,1],[-0.45,2.7],[0.45,2.25],[-0.35,1.7],[0.55,1.25],[1.4,2.8],[1.55,2.4],[1.3,1.95],[1.6,1.6],[1.35,1.15],[1.5,0.85]];
const holesEwEw = [[-1.2,0.16],[-1.95,0.25],[1.3,0.21],[1.55,0.42],[0.45,0.47],[-0.55,0.52],[-1.3,0.62],[1.35,0.52]];
const holesEwLam = [[-1.55,0.22],[1.35,0.26],[0.5,0.58],[-0.4,0.62],[-1.1,0.78],[1.1,0.7],[-0.6,0.42],[1.55,0.4]];
const holesEwSig = [[-1.4,0.27],[1.45,0.18],[0.55,0.55],[-0.4,0.58],[1.2,0.4],[-1.2,0.7],[0.9,0.75],[-1.6,0.4]];
const holesSnrEw = [[-1.2,97],[0.2,133],[-0.6,108],[1.35,76],[-0.9,118],[1.5,105],[0.55,70],[-1.6,86]];
const holesSnrLam = [[-1.45,118],[1.25,115],[0.4,67],[-0.8,160],[1.1,82],[-1.3,86],[-0.4,133],[0.7,145]];
const holesSnrSig = [[-1.35,88],[1.4,79],[0.35,143],[0.55,81],[-0.9,108],[1.3,118],[-0.4,125],[1.5,67]];

// running median (red) and scatter (white) [z, y]
const redEwEw = [[0.06,0.04],[-0.02,0.11],[-0.04,0.19],[0.01,0.28],[-0.1,0.34],[-0.06,0.44],[-0.01,0.57],[0.03,0.67],[-0.01,0.78],[-0.06,0.86],[-0.15,0.95],[0.12,1.04],[-0.26,1.15]];
const whiteEwEw = [[0.99,0.04],[1,0.165],[1,0.39],[1.07,0.59],[1.07,0.82],[1.06,1.035],[1.31,1.15]];
const redEwLam = [[0,0.025],[-0.04,0.14],[-0.02,0.265],[0.03,0.34],[-0.1,0.44],[0.01,0.54],[-0.05,0.67],[-0.03,0.795],[0.03,0.9],[0.16,1.04],[-0.45,1.15]];
const whiteEwLam = [[0.82,0.04],[0.95,0.19],[0.98,0.34],[0.88,0.52],[0.93,0.77],[0.96,0.97],[0.79,1.05],[0.43,1.15]];
const redEwSig = [[0.24,0.04],[0,0.15],[-0.02,0.265],[0,0.44],[0.03,0.645],[-0.03,0.745],[0.11,0.83],[-0.05,0.945],[0,1.04],[0.52,1.15]];
const whiteEwSig = [[0.88,0.04],[0.94,0.265],[1.01,0.415],[1.01,0.59],[0.95,0.67],[1.01,0.87],[0.97,1.04],[1.24,1.15]];
const redLamEw = [[0.01,4.78],[-0.08,3.66],[0.09,2.32],[-0.15,1.2],[0.01,0.31],[-0.1,-0.8],[0.03,-1.47],[-0.1,-1.92],[0.07,-2.81],[-0.04,-3.26],[0.15,-3.77],[-0.04,-4.38],[-0.01,-5.15]];
const whiteLamEw = [[0.99,4.78],[1.07,3.66],[1.01,2.55],[1.04,1.43],[1,-0.36],[1.04,-1.7],[1,-3.04],[1.01,-4.15],[1.09,-4.78]];
const redLamLam = [[-0.08,4.78],[0.03,4.22],[-0.13,2.77],[0,2.21],[-0.04,1.2],[0.03,0.87],[-0.08,0.2],[0.03,-0.58],[-0.02,-1.92],[0.01,-3.03],[-0.13,-3.71],[0.03,-4.6]];
const whiteLamLam = [[0.88,4.78],[0.95,3.66],[0.92,2.55],[0.95,1.43],[0.88,-0.8],[0.99,-2.37],[0.9,-4.15],[0.99,-4.71]];
const redLamSig = [[0.15,4.78],[0.02,3.88],[-0.01,2.1],[-0.09,0.76],[0.1,-0.69],[-0.07,-1.47],[0.04,-2.37],[-0.07,-3.15],[0.1,-3.71],[0.02,-4.6]];
const whiteLamSig = [[0.86,4.78],[1.02,3.44],[0.91,1.65],[0.99,0.54],[0.91,-0.13],[1.02,-0.58],[0.96,-2.37],[0.91,-3.26],[0.99,-4.71]];
const redSigEw = [[0.1,2.95],[-0.12,2.73],[-0.01,2.46],[0.03,2.3],[-0.04,1.88],[0.14,1.77],[-0.18,1.55],[0.01,1.45],[0.03,1.07],[-0.1,0.75],[-0.01,0.59]];
const whiteSigEw = [[1.09,2.95],[1.15,2.73],[1.01,2.52],[1.15,1.96],[1.01,1.72],[1.06,1.39],[1,1.07],[0.88,0.8],[0.93,0.64]];
const redSigLam = [[0.08,2.95],[-0.08,2.7],[0.05,2.4],[-0.05,2.1],[0.08,1.85],[-0.08,1.6],[0.06,1.35],[-0.06,1.1],[0.03,0.9],[-0.1,0.7]];
const whiteSigLam = [[1.05,2.95],[0.98,2.75],[1.1,2.6],[0.95,2.3],[1,2.1],[1.05,1.8],[0.98,1.5],[1.02,1.2],[0.95,0.95],[0.9,0.7]];
const redSigSig = [[0.03,2.97],[-0.08,2.6],[0.05,2.2],[-0.05,1.8],[0.08,1.55],[-0.05,1.2],[0.04,0.95],[0.1,0.65]];
const whiteSigSig = [[0.95,2.95],[1.02,2.5],[0.98,2.1],[1.02,1.6],[1.1,1.35],[0.95,1.1],[0.85,0.85],[0.88,0.65]];
const redSnrEw = [[0.01,55],[0.03,66],[-0.01,77],[0.1,81],[-0.04,92],[-0.04,106],[-0.15,115],[0.07,146],[-0.18,175],[0.1,214],[-0.04,234],[0.28,283]];
const whiteSnrEw = [[1.07,56],[0.93,62],[1.02,77],[1.01,99],[1.09,119],[1.15,172],[0.93,196],[1.2,257],[1.07,283]];
const redSnrLam = [[-0.18,56],[0.01,61],[-0.04,69],[0.03,92],[-0.1,124],[0.09,148],[-0.1,207],[0.12,234],[-0.2,254],[0.27,283]];
const whiteSnrLam = [[0.98,56],[0.84,62],[0.95,72],[0.82,87],[0.98,96],[0.85,113],[0.84,148],[1.09,211],[0.9,232],[1.26,259],[0.95,298]];
const redSnrSig = [[0.11,56],[0,66],[0.05,83],[-0.05,111],[-0.11,136],[0.11,149],[-0.22,163],[0.16,211],[-0.25,233],[0.32,283]];
const whiteSnrSig = [[0.88,56],[1.01,83],[0.9,103],[1.01,129],[1.01,185],[1.11,213],[0.92,234],[1.03,283]];

const xTicks = [-4, -2, 0, 2, 4];
const xMinor = d3.range(-4, 4.01, 0.5);

const rowSpecs = [
  {
    top: 10, bottom: 173.3, scale: d3.scaleLinear().domain([-0.038, 1.2]), major: [0, 0.2, 0.4, 0.6, 0.8, 1, 1.2],
    minor: d3.range(0, 1.21, 0.05), fmt: d3.format('.1f'), rows: ewRows, density: ewDensity, centre: ewCentre, widths: ewWidth, cloud: [-0.038, 1.2],
    pts: [[...ptsEwEw, ...edgeEwEw], [...ptsEwLam, ...edgeEwLam], [...ptsEwSig, ...edgeEwSig]],
    holes: [holesEwEw, holesEwLam, holesEwSig],
    red: [redEwEw, redEwLam, redEwSig], white: [whiteEwEw, whiteEwLam, whiteEwSig],
  },
  {
    top: 207.5, bottom: 371.7, scale: d3.scaleLinear().domain([-5.6, 5.4]), major: [-5, -2.5, 0, 2.5, 5],
    minor: d3.range(-5.5, 5.01, 0.5), fmt: d3.format('.1f'), rows: lamRows, density: lamDensity, centre: lamCentre, widths: lamWidth, cloud: [-5.2, 5],
    pts: [[...ptsLamEw, ...edgeLamEw], [...ptsLamLam, ...edgeLamLam], [...ptsLamSig, ...edgeLamSig]],
    holes: [holesLamEw, holesLamLam, holesLamSig],
    red: [redLamEw, redLamLam, redLamSig], white: [whiteLamEw, whiteLamLam, whiteLamSig],
  },
  {
    top: 406, bottom: 569.3, scale: d3.scaleLinear().domain([0.5, 3.12]), major: [0.5, 1, 1.5, 2, 2.5, 3],
    minor: d3.range(0.5, 3.11, 0.1), fmt: d3.format('.1f'), rows: sigRows, density: sigDensity, centre: sigCentre, widths: sigWidth, cloud: [0.58, 3.02],
    pts: [[...ptsSigEw, ...edgeSigEw], [...ptsSigLam, ...edgeSigLam], [...ptsSigSig, ...edgeSigSig]],
    holes: [holesSigEw, holesSigLam, holesSigSig],
    red: [redSigEw, redSigLam, redSigSig], white: [whiteSigEw, whiteSigLam, whiteSigSig],
  },
  {
    top: 604.3, bottom: 767.7, scale: d3.scaleLog().domain([50, 300]), major: [50, 60, 100, 200, 300],
    minor: [70, 80, 90], fmt: d3.format('d'), rows: snrRows, density: snrDensity, centre: snrCentre, widths: snrWidth, cloud: [50, 300],
    pts: [[...ptsSnrEw, ...edgeSnrEw], [...ptsSnrLam, ...edgeSnrLam], [...ptsSnrSig, ...edgeSnrSig]],
    holes: [holesSnrEw, holesSnrLam, holesSnrSig],
    red: [redSnrEw, redSnrLam, redSnrSig], white: [whiteSnrEw, whiteSnrLam, whiteSnrSig],
  },
];

const columns = [[66.7, 312.7], [362.4, 608.7], [659, 904.4]];

const serif = '"Liberation Serif", serif';
const tickSize = 15.5;

type Part = { t: string; sub?: boolean; it?: boolean };
const yLabels: Part[][] = [
  [{ t: 'Injected EW' }, { t: '8621', sub: true }, { t: ' [Å]' }],
  [{ t: 'Injected ' }, { t: 'λ', it: true }, { t: '8621', sub: true }, { t: ' − ' }, { t: 'λ', it: true }, { t: '0', sub: true }, { t: ' [Å]' }],
  [{ t: 'Injected ' }, { t: 'σ', it: true }, { t: '8621', sub: true }, { t: ' [Å]' }],
  [{ t: 'S/N' }],
];
const xLabels: Part[][] = [
  [{ t: 'EW' }, { t: '8621', sub: true }, { t: ' Z−score' }],
  [{ t: 'λ', it: true }, { t: '8621', sub: true }, { t: ' Z−score' }],
  [{ t: 'σ', it: true }, { t: '8621', sub: true }, { t: ' Z−score' }],
];
const yLabelPos = [[34, 91], [22, 290], [34, 492], [30, 686]];
const xLabelPos = [190, 486, 782];

function addLabel(g: any, parts: Part[], x: number, y: number, size: number, rotate: boolean) {
  const text = g.append('text')
    .attr('transform', rotate ? `translate(${x},${y}) rotate(-90)` : `translate(${x},${y})`)
    .attr('text-anchor', 'middle')
    .attr('font-family', serif)
    .attr('font-size', size)
    .attr('fill', '#000');
  let shifted = false;
  parts.forEach(p => {
    const dy = p.sub ? size * 0.22 : shifted ? -size * 0.22 : 0;
    shifted = !!p.sub;
    text.append('tspan')
      .attr('dy', dy)
      .attr('font-size', p.sub ? size * 0.7 : size)
      .attr('font-style', p.it ? 'italic' : 'normal')
      .style('white-space', 'pre')
      .text(p.t);
  });
}

// draws one side of a frame; labelled sides keep the tick text
function drawAxis(g: any, axis: any, tx: number, ty: number, size: number, values: number[], format: any) {
  const a = g.append('g').attr('transform', `translate(${tx},${ty})`)
    .call(axis.tickValues(values).tickSize(size).tickSizeOuter(0).tickPadding(3).tickFormat(format));
  a.select('.domain').attr('stroke', '#5a5a5a').attr('stroke-width', 1.3);
  a.selectAll('.tick line').attr('stroke', '#222').attr('stroke-width', 0.9);
  a.selectAll('text').attr('font-family', serif).attr('font-size', tickSize).attr('fill', '#000');
}

const App = () => {
  const ref = useRef<SVGSVGElement>(null);

  useEffect(() => {
    const svg = d3.select(ref.current);
    svg.selectAll('*').remove();

    const defs = svg.append('defs');
    defs.append('filter').attr('id', 'soft')
      .attr('x', '-10%').attr('y', '-10%').attr('width', '120%').attr('height', '120%')
      .append('feGaussianBlur').attr('stdDeviation', 2);

    const colour = (t: number) => d3.interpolateViridis(1 - Math.max(0, Math.min(1, t)));
    // the thin outer part of the cloud is only a faint wash, the points carry it
    const thresholds = [0.06, 0.1, ...d3.range(0.15, 1.0, 0.03)];
    const blank = () => '';

    rowSpecs.forEach((row, ri) => {
      const y = row.scale.copy().range([row.bottom, row.top]);
      // full table, mirrored round the centre column
      const zCols = [...zProfile.slice(1).reverse().map(d => -d), ...zProfile];
      const mirrored = row.density.map(r => [...r.slice(1).reverse(), ...r]);
      const contours = d3.contours().size([zCols.length, row.rows.length]).thresholds(thresholds)(mirrored.flat());
      const rowPx = d3.scaleLinear().domain(row.rows.map((_, i) => i)).range(row.rows.map(d => y(d)));

      columns.forEach((col, ci) => {
        const x = d3.scaleLinear().domain([-4, 4]).range(col);
        const centre = row.centre[ci];
        const w = row.widths[ci];
        const colPx = d3.scaleLinear().domain(zCols.map((_, i) => i)).range(zCols.map(z => x(centre + w * z)));
        const g = svg.append('g');
        const clipId = `clip-${ri}-${ci}`;
        defs.append('clipPath').attr('id', clipId).append('rect')
          .attr('x', col[0]).attr('y', row.top).attr('width', col[1] - col[0]).attr('height', row.bottom - row.top);
        const cloudId = `cloud-${ri}-${ci}`;
        defs.append('clipPath').attr('id', cloudId).append('rect')
          .attr('x', col[0]).attr('y', y(row.cloud[1])).attr('width', col[1] - col[0]).attr('height', y(row.cloud[0]) - y(row.cloud[1]));

        g.append('rect')
          .attr('x', col[0]).attr('y', row.top)
          .attr('width', col[1] - col[0]).attr('height', row.bottom - row.top)
          .attr('fill', '#a9a9a9');

        const path = d3.geoPath(d3.geoTransform({
          point(px: number, py: number) {
            this.stream.point(colPx(px - 0.5), rowPx(py - 0.5));
          },
        }));

        g.append('g').attr('clip-path', `url(#${cloudId})`)
          .append('g').attr('filter', 'url(#soft)')
          .selectAll('path').data(contours).join('path')
          .attr('d', (d: any) => path(d))
          .attr('fill', (d: any) => colour(d.value + 0.04))
          .attr('fill-opacity', (d: any) => (d.value < 0.15 ? 0.2 : 1));

        const inner = g.append('g').attr('clip-path', `url(#${clipId})`);

        inner.append('g').selectAll('ellipse').data(row.holes[ci]).join('ellipse')
          .attr('cx', d => x(d[0]))
          .attr('cy', d => y(d[1]))
          .attr('rx', 2.4)
          .attr('ry', 1.1)
          .attr('fill', '#a9a9a9');

        // colour of a wing point comes from the nearest table row
        const pointColour = (p: number[]) => {
          const idx = d3.bisectCenter(row.rows, p[1]);
          const t = d3.scaleLinear().domain(zProfile).range(row.density[idx]).clamp(true)(Math.abs(p[0] - centre) / w);
          return colour(t * 1.3 + 0.03);
        };
        inner.append('g').selectAll('circle').data(row.pts[ci]).join('circle')
          .attr('cx', d => x(d[0]))
          .attr('cy', d => y(d[1]))
          .attr('r', 2.1)
          .attr('fill', d => pointColour(d));

        inner.append('g').selectAll('line').data([-1, 0, 1]).join('line')
          .attr('x1', d => x(d)).attr('x2', d => x(d))
          .attr('y1', row.top).attr('y2', row.bottom)
          .attr('stroke', d => (d === 0 ? '#ff0000' : '#ffffff'))
          .attr('stroke-width', 1.8)
          .attr('stroke-dasharray', '5.5 1.6');

        const line = d3.line<number[]>().x(d => x(d[0])).y(d => y(d[1]));
        inner.append('path').attr('d', line(row.white[ci])).attr('fill', 'none').attr('stroke', '#ffffff').attr('stroke-width', 2);
        inner.append('path').attr('d', line(row.red[ci])).attr('fill', 'none').attr('stroke', '#ff0000').attr('stroke-width', 2);

        // frame with outward ticks on all four sides
        drawAxis(g, d3.axisBottom(x), 0, row.bottom, 2.8, xMinor, blank);
        drawAxis(g, d3.axisBottom(x), 0, row.bottom, 5, xTicks, d3.format('d'));
        drawAxis(g, d3.axisTop(x), 0, row.top, 2.8, xMinor, blank);
        drawAxis(g, d3.axisTop(x), 0, row.top, 5, xTicks, blank);
        drawAxis(g, d3.axisLeft(y), col[0], 0, 2.8, row.minor, blank);
        drawAxis(g, d3.axisLeft(y), col[0], 0, 5, row.major, row.fmt);
        drawAxis(g, d3.axisRight(y), col[1], 0, 2.8, row.minor, blank);
        drawAxis(g, d3.axisRight(y), col[1], 0, 5, row.major, blank);
      });

      addLabel(svg, yLabels[ri], yLabelPos[ri][0], yLabelPos[ri][1], 19, true);
    });

    xLabels.forEach((parts, i) => addLabel(svg, parts, xLabelPos[i], 805, 18, false));
  }, []);

  return (
    <svg
      ref={ref}
      width={width}
      height={height}
      viewBox={`0 0 ${width} ${height}`}
      style={{ position: 'absolute', left: 0, top: 0, background: '#fff' }}
    />
  );
};

export default App;
